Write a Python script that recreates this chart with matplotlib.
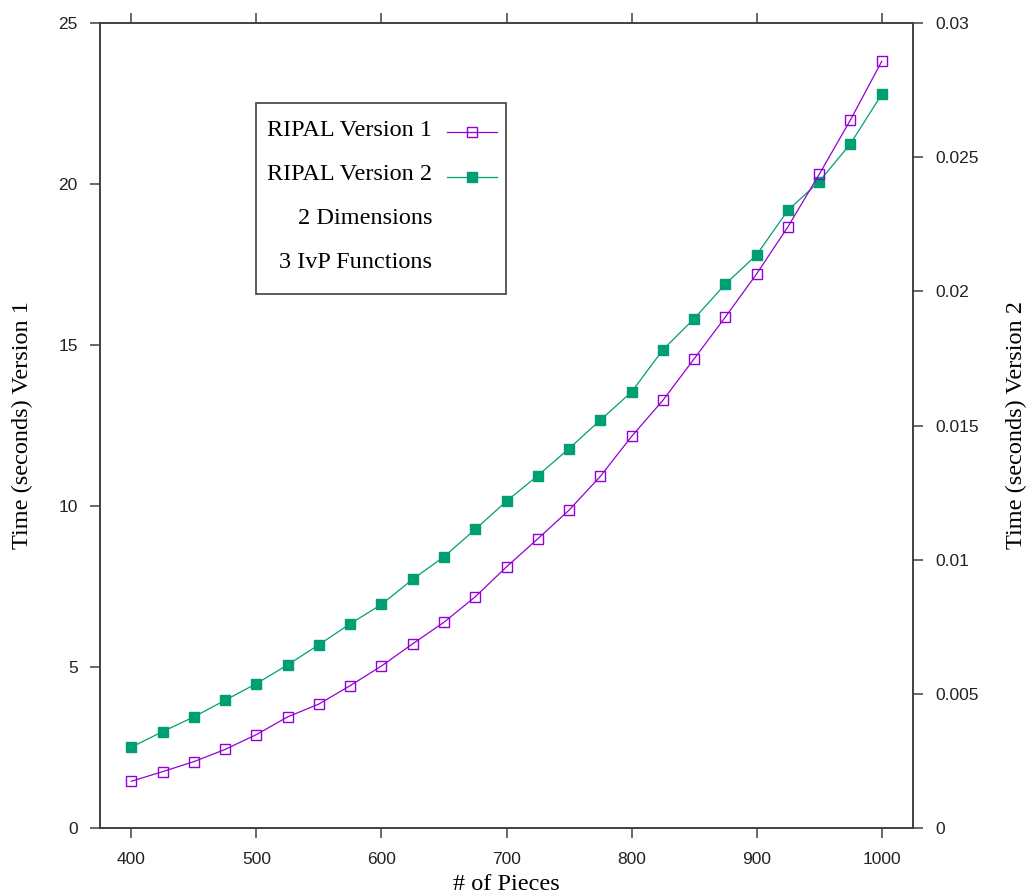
import matplotlib
matplotlib.use('Agg')
import matplotlib.pyplot as plt
from matplotlib.patches import Rectangle
from matplotlib.lines import Line2D

# Timing results, read per piece count
pieces = [400, 425, 450, 475, 500, 525, 550, 575, 600, 625, 650, 675, 700,
          725, 750, 775, 800, 825, 850, 875, 900, 925, 950, 975, 1000]
time_v1 = [1.45, 1.75, 2.06, 2.44, 2.90, 3.45, 3.85, 4.42, 5.03, 5.72, 6.39,
           7.18, 8.11, 8.98, 9.87, 10.92, 12.16, 13.28, 14.57, 15.87, 17.21,
           18.67, 20.30, 21.99, 23.81]
time_v2 = [0.00301, 0.00359, 0.00414, 0.00476, 0.00538, 0.00608, 0.00683,
           0.00761, 0.00833, 0.00927, 0.01011, 0.01113, 0.01218, 0.01313,
           0.01414, 0.01520, 0.01625, 0.01782, 0.01898, 0.02027, 0.02136,
           0.02302, 0.02409, 0.02550, 0.02734]

legend_labels = ['RIPAL Version 1', 'RIPAL Version 2', '2 Dimensions', '3 IvP Functions']

purple = '#9400d3'
green = '#009e73'
axis_col = '#404040'
sans = 'Liberation Sans'
serif = 'Liberation Serif'

fig = plt.figure(figsize=(10.26, 8.94), dpi=100)
W, H = 1026, 894
ax = fig.add_axes([100 / W, 1 - 828 / H, 813 / W, 805 / H])
ax2 = ax.twinx()

ax.plot(pieces, time_v1, color=purple, lw=0.9, marker='s', ms=6.5,
        mfc='none', mec=purple, mew=1.0)
ax2.plot(pieces, time_v2, color=green, lw=0.9, marker='s', ms=6.5,
         mfc=green, mec=green)

# purple series drawn above the green one
ax.set_zorder(ax2.get_zorder() + 1)
ax.patch.set_visible(False)

ax.set_xlim(375, 1025)
ax.set_ylim(0, 25)
ax2.set_ylim(0, 0.03)
ax.set_xticks(range(400, 1001, 100))
ax.set_yticks(range(0, 26, 5))
ax2.set_yticks([0, 0.005, 0.01, 0.015, 0.02, 0.025, 0.03])
ax2.set_yticklabels(['0', '0.005', '0.01', '0.015', '0.02', '0.025', '0.03'])

for a in (ax, ax2):
    for s in a.spines.values():
        s.set_color(axis_col)
        s.set_linewidth(1.2)
ax.tick_params(axis='x', which='both', direction='out', top=True, length=7,
               width=1.1, color=axis_col, pad=10, labelsize=12.5,
               labelcolor='#222222')
ax.tick_params(axis='y', direction='out', length=7, width=1.1,
               color=axis_col, pad=9, labelsize=12.5, labelcolor='#222222')
ax2.tick_params(axis='y', direction='out', length=7, width=1.1,
                color=axis_col, pad=9, labelsize=12.5, labelcolor='#222222')
for lab in ax.get_xticklabels() + ax.get_yticklabels() + ax2.get_yticklabels():
    lab.set_family(sans)

# axis titles
fig.text(22 / W, 1 - 425 / H, 'Time (seconds) Version 1', rotation=90,
         ha='center', va='center', family=serif, fontsize=17.5)
fig.text(1016 / W, 1 - 425 / H, 'Time (seconds) Version 2', rotation=90,
         ha='center', va='center', family=serif, fontsize=17.5)
fig.text(506 / W, 1 - 874 / H, '# of Pieces', ha='center', va='top',
         family=serif, fontsize=17.5)

# boxed key
def ax_xy(px, py):
    return (px - 100) / 813, (828 - py) / 805

x0, y0 = ax_xy(256, 294)
x1, y1 = ax_xy(506, 103)
ax.add_patch(Rectangle((x0, y0), x1 - x0, y1 - y0, transform=ax.transAxes,
                       fill=True, facecolor='white', edgecolor=axis_col,
                       lw=1.2, zorder=5))
row_y = [131, 175, 218, 263]
for lbl, ry in zip(legend_labels, row_y):
    tx, ty = ax_xy(432, ry)
    ax.text(tx, ty, lbl, transform=ax.transAxes, ha='right', va='center',
            family=serif, fontsize=17.5, zorder=6)

styles = [dict(color=purple, mfc='none', mec=purple, mew=1.0),
          dict(color=green, mfc=green, mec=green)]
for st, ry in zip(styles, [132, 177]):
    lx0, ly = ax_xy(447, ry)
    lx1, _ = ax_xy(497, ry)
    ax.add_line(Line2D([lx0, lx1], [ly, ly], transform=ax.transAxes,
                       lw=0.9, zorder=6, color=st['color']))
    mx, _ = ax_xy(472, ry)
    ax.add_line(Line2D([mx], [ly], transform=ax.transAxes, ls='none',
                       marker='s', ms=6.5, zorder=7,
                       **{k: v for k, v in st.items() if k != 'color'}))

fig.savefig('out.png', dpi=100)
